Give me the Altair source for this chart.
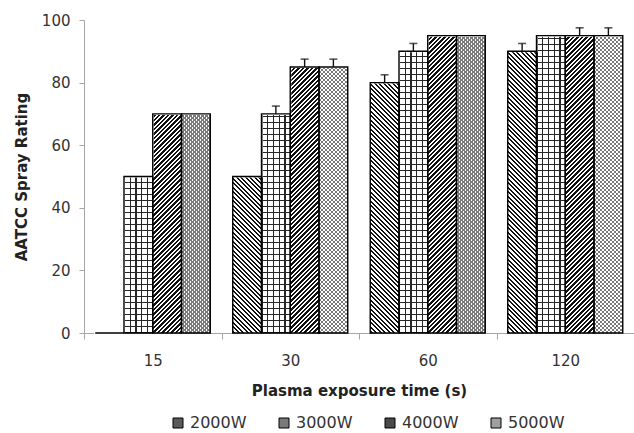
import math
import altair as alt
import pandas as pd

# ---------------- data ----------------
times = ["15", "30", "60", "120"]
series = ["2000W", "3000W", "4000W", "5000W"]
rating_2000 = [0, 50, 80, 90]
rating_3000 = [50, 70, 90, 95]
rating_4000 = [70, 85, 95, 95]
rating_5000 = [70, 85, 95, 95]
err_2000 = [0, 0, 2.5, 2.5]
err_3000 = [0, 2.5, 2.5, 0]
err_4000 = [0, 2.5, 0, 2.5]
err_5000 = [0, 2.5, 0, 2.5]
y_ticks = [0, 20, 40, 60, 80, 100]
legend_tones = ["#5a5a5a", "#7a7a7a", "#4a4a4a", "#a0a0a0"]

rows = []
for s, vals, errs in zip(series,
                         [rating_2000, rating_3000, rating_4000, rating_5000],
                         [err_2000, err_3000, err_4000, err_5000]):
    for t, v, e in zip(times, vals, errs):
        rows.append({"time": t, "series": s, "value": v, "err": e})
df = pd.DataFrame(rows)

# ---------------- layout / style ----------------
FONT = "DejaVu Sans"
PLOT_W, PLOT_H = 550, 313
Y_MAX = 100
PX = PLOT_H / Y_MAX                      # pixels per rating unit
OUTER = 0.391
BAR_W = PLOT_W / len(times) / (len(series) + 2 * OUTER)
AXIS_GREY = "#a6a6a6"
TEXT = "#333333"
CLEAR = "rgba(0,0,0,0)"
OVERLAP_PX = 1.0                         # hides seams between tiles


def band_stops(s0, s1, p, frac, bg, fg):
    L = s1 - s0

    def col(s):
        return fg if (s % p) < frac * p else bg

    events = []
    for k in range(math.floor(s0 / p) - 1, math.ceil(s1 / p) + 2):
        for e in (k * p, k * p + frac * p):
            if s0 < e < s1:
                events.append(e)
    events.sort()
    stops = [alt.GradientStop(color=col(s0 + 1e-7), offset=0)]
    for e in events:
        t = round((e - s0) / L, 6)
        stops.append(alt.GradientStop(color=col(e - 1e-7), offset=t))
        stops.append(alt.GradientStop(color=col(e + 1e-7), offset=t))
    stops.append(alt.GradientStop(color=col(s1 - 1e-7), offset=1))
    return stops


def pattern(kind, tile_px, period, frac, bg, fg):
    """gradient for one tile of tile_px height (plus overlap)"""
    w = BAR_W
    h = tile_px + OVERLAP_PX
    if kind in ("back", "fwd"):
        a = (w + h) / (w * w + h * h)
        if kind == "back":   # "\" : s = x - y
            geo = dict(x1=0, y1=1, x2=a * w, y2=1 - a * h)
            s0, s1 = -h, w
        else:                # "/" : s = x + y
            geo = dict(x1=0, y1=0, x2=a * w, y2=a * h)
            s0, s1 = 0, w + h
    elif kind == "vertical":
        geo = dict(x1=0, y1=0, x2=1, y2=0)
        s0, s1 = 0, w
    else:                    # horizontal
        geo = dict(x1=0, y1=0, x2=0, y2=1)
        s0, s1 = 0, h
    return alt.LinearGradient(gradient="linear",
                              stops=band_stops(s0, s1, period, frac, bg, fg), **geo)


# pattern periods (px) and tile heights (a whole number of periods)
P_D, M_D = 4.5, 7          # diagonal hatch
P_G, M_G = 6.0, 10         # grid horizontal lines
P_L, M_L = 4.0, 8          # fine lattice
pattern_specs = {
    "2000W": [("back", P_D * M_D, P_D, 0.45, "white", "#111111")],
    "3000W": [("vertical", P_G * M_G, BAR_W / 5, 0.19, "white", "#262626"),
              ("horizontal", P_G * M_G, P_G, 0.19, CLEAR, "#262626")],
    "4000W": [("fwd", P_D * M_D, P_D, 0.55, "white", "#111111")],
    "5000W": [("fwd", P_L * M_L, P_L, 0.45, "white", "#7a7a7a"),
              ("back", P_L * M_L, P_L, 0.45, CLEAR, "#7a7a7a")],
}


def tiles(tile_px):
    seg = tile_px / PX
    ov = OVERLAP_PX / PX
    out = []
    n = math.ceil(Y_MAX / seg)
    for t in times:
        for s in series:
            for k in range(n):
                out.append({"time": t, "series": s, "lo": k * seg,
                            "hi": (k + 1) * seg + ov})
    return pd.DataFrame(out)


x_axis = alt.Axis(title="Plasma exposure time (s)", labelAngle=0, tickBand="extent",
                  grid=False, tickSize=6, labelPadding=14, titlePadding=15,
                  domainColor=AXIS_GREY, tickColor=AXIS_GREY, domainWidth=1,
                  labelColor=TEXT, titleColor="#222222",
                  labelFont=FONT, titleFont=FONT, labelFontSize=15, titleFontSize=15,
                  titleFontWeight="bold")
y_axis = alt.Axis(title="AATCC Spray Rating", values=y_ticks, grid=False,
                  tickSize=5, labelPadding=9, titlePadding=12,
                  domainColor=AXIS_GREY, tickColor=AXIS_GREY,
                  labelColor=TEXT, titleColor="#222222",
                  labelFont=FONT, titleFont=FONT, labelFontSize=15, titleFontSize=15,
                  titleFontWeight="bold")
y_scale = alt.Scale(domain=[0, Y_MAX], nice=False)

X = alt.X("time:N", sort=times, scale=alt.Scale(domain=times, paddingInner=0, paddingOuter=0),
          axis=x_axis)
XO = alt.XOffset("series:N", sort=series,
                 scale=alt.Scale(domain=series, paddingInner=0, paddingOuter=OUTER))

base = alt.Chart(df)
layers = []

# pattern fills, tiled over the full height, trimmed later by the white cover
for s in series:
    for kind, tile_px, period, frac, bg, fg in pattern_specs[s]:
        grad = pattern(kind, tile_px, period, frac, bg, fg)
        layers.append(
            alt.Chart(tiles(tile_px))
            .transform_filter(alt.datum.series == s)
            .mark_bar(fill=grad, strokeWidth=0, clip=True)
            .encode(x=X, xOffset=XO,
                    y=alt.Y("lo:Q", scale=y_scale, axis=y_axis), y2="hi:Q")
        )

# white cover above each bar's value
layers.append(
    base.transform_calculate(full=str(Y_MAX))
    .mark_bar(fill="white", stroke="white", strokeWidth=2)
    .encode(x=X, xOffset=XO,
            y=alt.Y("value:Q", scale=y_scale, axis=y_axis), y2="full:Q")
)

# bar outlines
layers.append(
    base.mark_bar(fillOpacity=0, stroke="black", strokeWidth=1.4)
    .encode(x=X, xOffset=XO, y=alt.Y("value:Q", scale=y_scale, axis=y_axis))
)

# error bars
err_base = base.transform_filter(alt.datum.err > 0).transform_calculate(
    upper="datum.value + datum.err")
layers.append(
    err_base.mark_rule(color="#111111", strokeWidth=1.4)
    .encode(x=X, xOffset=XO, y=alt.Y("value:Q", scale=y_scale, axis=y_axis), y2="upper:Q")
)
layers.append(
    err_base.mark_tick(color="#111111", thickness=1.6, size=8)
    .encode(x=X, xOffset=XO, y=alt.Y("upper:Q", scale=y_scale, axis=y_axis))
)

# legend carrier (draws nothing)
layers.append(
    base.transform_filter("datum.value < 0")
    .mark_square(opacity=1)
    .encode(x=X, xOffset=XO, y=alt.Y("value:Q", scale=y_scale, axis=y_axis),
            fill=alt.Fill("series:N", sort=series,
                          scale=alt.Scale(domain=series, range=legend_tones),
                          legend=alt.Legend(title=None, orient="none", direction="horizontal",
                                            legendX=86, legendY=395, padding=0,
                                            symbolType="square", symbolSize=100,
                                            symbolStrokeColor="black", symbolStrokeWidth=1,
                                            symbolOpacity=1,
                                            labelFont=FONT, labelFontSize=16, labelColor=TEXT,
                                            labelOffset=4, columnPadding=29)))
)

chart = (
    alt.layer(*layers)
    .properties(width=PLOT_W, height=PLOT_H,
                autosize=alt.AutoSizeParams(type="none"),
                padding={"left": 84, "top": 20, "right": 0, "bottom": 100})
    .configure_view(stroke=None)
)

chart.save("out.html", embed_options={"renderer": "svg", "actions": False})
